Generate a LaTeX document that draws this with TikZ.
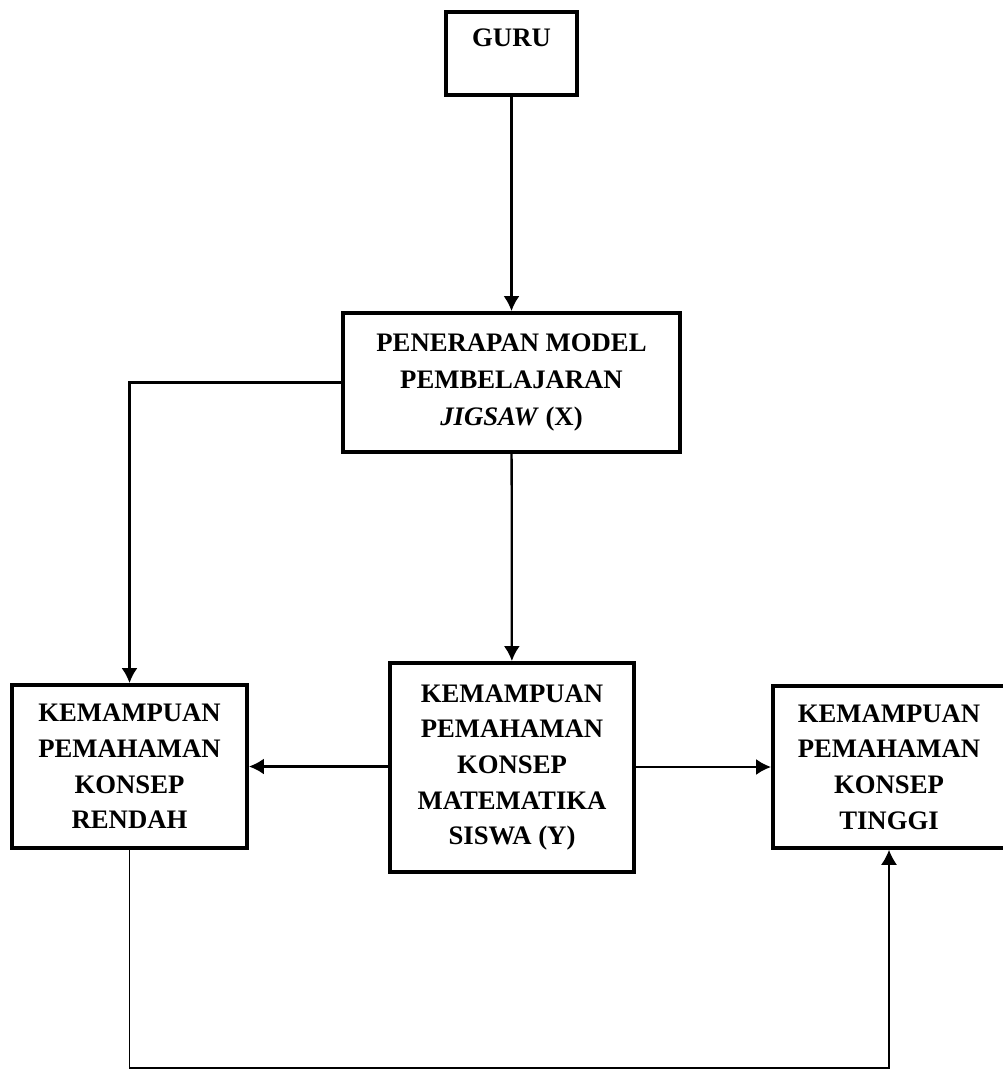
\documentclass[tikz,border=0pt]{standalone}
\usepackage{fontspec}
\setmainfont{Liberation Serif}
\usetikzlibrary{arrows.meta,positioning}

\begin{document}
\begin{tikzpicture}[x=0.02cm,y=-0.02cm,
            box/.style={draw,rectangle,line width=2.2pt,inner sep=0pt,align=center,
              font=\fontsize{15.2}{20.3}\selectfont\bfseries},
            conn/.style={draw,-{Latex[length=0.3cm,width=0.32cm]},line width=1.3pt},
            thinconn/.style={conn,line width=0.7pt}
          ]
          \useasboundingbox (0,0) rectangle (1003,1074);

          %boxes
          \node[box,minimum width=2.62cm,minimum height=1.66cm,text height=0.34cm,text depth=0.6cm]
            (guru) at (511.5,53.5) {GURU};
          \node[box,minimum width=6.74cm,minimum height=2.78cm,font=\fontsize{15.2}{21}\selectfont\bfseries]
            (model) at (511.5,382.5) {PENERAPAN MODEL\\PEMBELAJARAN\\\textit{JIGSAW} (X)};
          \node[box,minimum width=4.88cm,minimum height=4.18cm] (siswa) at (512,767.5)
            {KEMAMPUAN\\PEMAHAMAN\\KONSEP\\MATEMATIKA\\SISWA (Y)};
          \node[box,minimum width=4.7cm,minimum height=3.26cm] (rendah) at (129.5,766.5)
            {KEMAMPUAN\\PEMAHAMAN\\KONSEP\\RENDAH};
          \node[box,minimum width=4.64cm,minimum height=3.24cm] (tinggi) at (889,767)
            {KEMAMPUAN\\PEMAHAMAN\\KONSEP\\TINGGI};

          \coordinate (bot) at (500,1068);

          %arrows
          \path[conn] (guru) -- (model);
          \path[conn] (model) -- (siswa);
          \path[conn] (model.west) -| (rendah.north);
          \path[conn] (siswa.west) -- (rendah.east -| siswa.west) -- (rendah.east);
          \path[conn] (tinggi.west -| siswa.east) -- (tinggi.west);
          \path[thinconn] (rendah.south) |- (bot) -| (tinggi.south);

      \end{tikzpicture}
\end{document}
